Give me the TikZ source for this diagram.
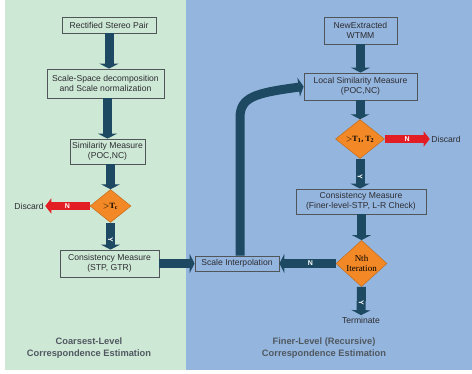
\documentclass[tikz,border=0pt]{standalone}
\usepackage{fontspec}
\setmainfont{Liberation Sans}
\newfontfamily\seriffont{Liberation Serif}
\usetikzlibrary{arrows.meta,shapes.geometric}
\definecolor{greenbg}{RGB}{206,232,214}
\definecolor{bluebg}{RGB}{148,181,222}
\definecolor{arrowc}{RGB}{29,74,98}
\definecolor{boxline}{RGB}{80,85,90}
\definecolor{txt}{RGB}{45,45,50}
\definecolor{orangec}{RGB}{242,136,38}
\definecolor{redc}{RGB}{226,30,36}
\definecolor{labelc}{RGB}{80,88,96}
\tikzset{
  box/.style={draw=boxline, line width=0.8pt, inner sep=0pt, align=center, text=txt,
    font=\fontsize{8.6}{9.6}\selectfont},
  dia/.style={diamond, draw=orangec!80!black, line width=0.5pt, fill=orangec, inner sep=0pt,
    align=center, text=black},
  bigarrow/.style={draw=arrowc, line width=9pt, -{Triangle[length=5pt,width=19pt]}},
  redarrow/.style={draw=redc, line width=8pt, -{Triangle[length=6pt,width=15pt]}},
  ylab/.style={text=white, font=\fontsize{7}{7}\bfseries\selectfont, rotate=-90, inner sep=0pt},
  nlab/.style={text=white, font=\fontsize{7}{7}\bfseries\selectfont, inner sep=0pt},
  plain/.style={text=txt, font=\fontsize{8.6}{9.6}\selectfont, inner sep=1.5pt},
  panel/.style={text=labelc, align=center, font=\fontsize{9.3}{12}\bfseries\selectfont}
}
\begin{document}
\begin{tikzpicture}[x=1pt,y=-1pt]
\useasboundingbox (0,0) rectangle (472,373);
\fill[white] (0,0) rectangle (472,373);
\fill[greenbg] (5,0) rectangle (186,370);
\fill[bluebg] (186,0) rectangle (472,370);

% left column
\node[box, minimum width=94pt, minimum height=16pt] (rsp) at (109,25) {Rectified Stereo Pair};
\node[box, minimum width=117pt, minimum height=29pt] (ssd) at (105.5,83.5) {Scale-Space decomposition\\and Scale normalization};
\node[box, minimum width=75pt, minimum height=25pt] (sm) at (107.5,151.5) {Similarity Measure\\(POC,NC)};
\node[dia, minimum width=41pt, minimum height=33pt, font=\seriffont\bfseries\fontsize{8}{9}\selectfont] (d1) at (110.5,206)
  {$>$T\textsubscript{c}};
\node[box, minimum width=99pt, minimum height=27pt] (cm1) at (109.5,263.5) {Consistency Measure\\(STP, GTR)};
\node[plain] (dis1) at (29,206) {Discard};

% middle
\node[box, minimum width=84pt, minimum height=15pt] (si) at (237,263.5) {Scale Interpolation};

% right column
\node[box, minimum width=73pt, minimum height=27pt] (nwe) at (360.5,30.5) {NewExtracted\\WTMM};
\node[box, minimum width=113pt, minimum height=27pt] (lsm) at (360.5,86.5) {Local Similarity Measure\\(POC,NC)};
\node[dia, minimum width=49pt, minimum height=39pt, font=\seriffont\bfseries\fontsize{8}{9}\selectfont] (d2) at (360,139)
  {$>$T\textsubscript{1}, T\textsubscript{2}};
\node[plain] (dis2) at (446,139) {Discard};
\node[box, minimum width=130pt, minimum height=25pt] (cm2) at (361,201.5) {Consistency Measure\\(Finer-level-STP, L-R Check)};
\node[dia, minimum width=51pt, minimum height=39pt, font=\seriffont\fontsize{9}{9.5}\selectfont] (d3) at (361.5,263.5)
  {Nth\\Iteration};
\node[plain] (term) at (361,320) {Terminate};

% panel labels
\node[panel] (pl1) at (89,348) {Coarsest-Level\\Correspondence Estimation};
\node[panel] (pl2) at (324,348) {Finer-Level (Recursive)\\Correspondence Estimation};

% arrows left
\draw[bigarrow] (rsp.south) -- (rsp.south |- ssd.north);
\draw[bigarrow] (ssd.south -| sm) -- (sm);
\draw[bigarrow] (sm.south -| d1) -- (d1.north);
\draw[bigarrow] (d1.south) -- node[ylab, xshift=2pt, pos=0.55] {Y} (d1.south |- cm1.north);
\draw[redarrow] (d1.west) -- node[nlab, pos=0.5] {N} (dis1.east);
\draw[bigarrow] (cm1.east) -- (si.west);

% arrows right
\draw[bigarrow] (nwe) -- (lsm);
\draw[bigarrow] (lsm.south -| d2) -- (d2.north);
\draw[redarrow] (d2.east) -- node[nlab, pos=0.5] {N} (dis2.west);
\draw[bigarrow] (d2.south) -- node[ylab, xshift=2pt, pos=0.55] {Y} (d2.south |- cm2.north);
\draw[bigarrow] (cm2.south -| d3) -- (d3.north);
\draw[bigarrow] (d3.west) -- node[nlab, pos=0.45] {N} (si.east);
\draw[bigarrow] (d3.south) -- node[ylab, xshift=2pt, pos=0.5] {Y} (term.north);

% curved feedback arrow
\coordinate (c1) at (240,118);
\draw[bigarrow] ([xshift=3pt]si.north) -- (c1) .. controls (240,97) and (255,93) .. (lsm.west);
\end{tikzpicture}
\end{document}
